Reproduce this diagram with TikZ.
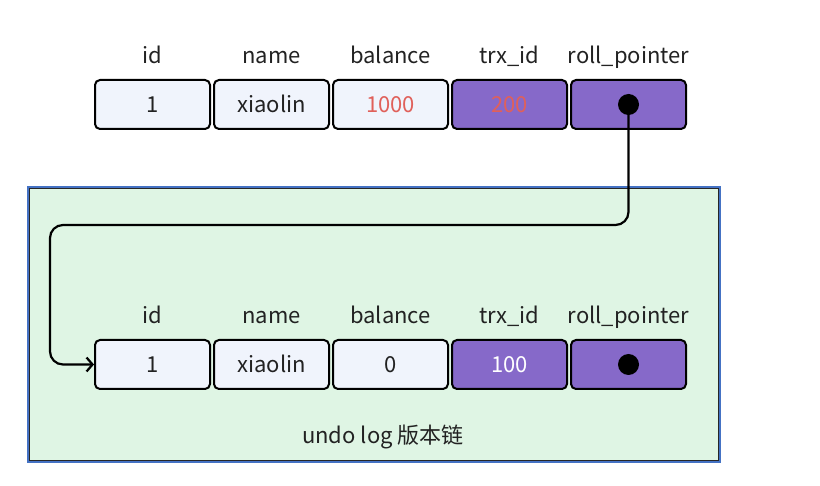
\documentclass[tikz,border=0pt]{standalone}
\usepackage{fontspec}
\setmainfont{Noto Sans CJK SC}
\usetikzlibrary{positioning,calc,arrows.meta}

\definecolor{cellblue}{HTML}{F0F4FC}
\definecolor{cellpurple}{HTML}{8669C9}
\definecolor{valred}{HTML}{E0605A}
\definecolor{logbg}{HTML}{DFF5E4}
\definecolor{logblue}{HTML}{4472C4}
\definecolor{textdark}{HTML}{222222}

\begin{document}
\begin{tikzpicture}[x=1pt,y=-1pt,font=\fontsize{22pt}{26pt}\selectfont]
    % `cell' is a field of a row, `field' is the purple one.
    % `header' is the column name above a cell, `dot' the pointer.
    \tikzstyle{cell} = [draw=black,line width=2pt,fill=cellblue,rounded corners=5pt,
      minimum width=115pt,minimum height=49pt,inner sep=0pt,
      text height=15.5pt,text depth=0pt,text=textdark]
    \tikzstyle{field} = [cell,fill=cellpurple]
    \tikzstyle{header} = [anchor=base,inner sep=0pt,text=textdark]
    \tikzstyle{dot} = [fill=black,circle,minimum size=21pt,inner sep=0pt]
    \tikzstyle{pointer} = [line width=2.2pt,rounded corners=13pt,-{Straight Barb[length=6pt,width=14pt,line width=2.2pt]}]
    \useasboundingbox (0,0) rectangle (820,486);
    %
    % undo log box
    \fill[logbg] (28,187) rectangle (720,462);
    \draw[logblue,line width=2.5pt] (28,187) rectangle (720,462);
    \draw[black!85,line width=1pt] (29.5,188.5) rectangle (718.5,460.5);
    \node[inner sep=0pt,anchor=base,text=textdark] (loglabel) at (383,444) {undo log 版本链};
    %
    % current row
    \node[cell] (id1) at (152.5,104.5) {1};
    \node[cell,right=2pt of id1] (name1) {xiaolin};
    \node[cell,right=2pt of name1,text=valred] (bal1) {1000};
    \node[field,right=2pt of bal1,text=valred] (trx1) {200};
    \node[field,right=2pt of trx1] (roll1) {};
    %
    % old version in undo log
    \node[cell] (id2) at (152.5,364.5) {1};
    \node[cell,right=2pt of id2] (name2) {xiaolin};
    \node[cell,right=2pt of name2] (bal2) {0};
    \node[field,right=2pt of bal2,text=white] (trx2) {100};
    \node[field,right=2pt of trx2] (roll2) {};
    %
    % column names
    \foreach \row in {1,2} {
      \node[header] at ($(id\row.north)+(0,-15)$) {id};
      \node[header] at ($(name\row.north)+(0,-15)$) {name};
      \node[header] at ($(bal\row.north)+(0,-15)$) {balance};
      \node[header] at ($(trx\row.north)+(0,-15)$) {trx\_id};
      \node[header] at ($(roll\row.north)+(0,-15)$) {roll\_pointer};
    }
    %
    % pointer from roll_pointer to the old version
    \coordinate (bend) at (50,225);
    \draw[pointer] (roll1.center) |- (bend) |- (id2.west);
    \node[dot] (dot1) at (roll1.center) {};
    \node[dot] (dot2) at (roll2.center) {};
\end{tikzpicture}
\end{document}
